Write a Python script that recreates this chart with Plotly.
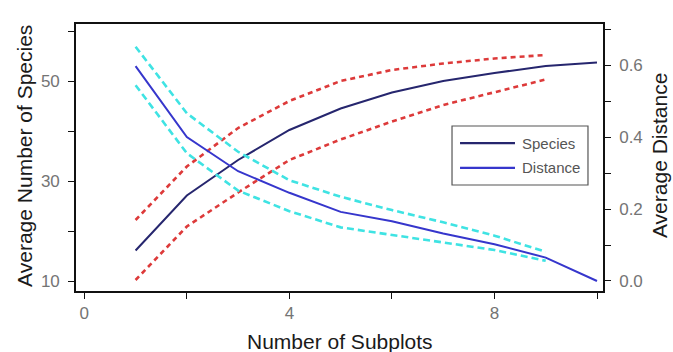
import plotly.graph_objects as go

# Number of subplots sampled
subplots = [1, 2, 3, 4, 5, 6, 7, 8, 9, 10]
ci_subplots = [1, 2, 3, 4, 5, 6, 7, 8, 9]

# Average number of species and its confidence band
species = [16.1, 27.1, 34.2, 40.2, 44.5, 47.7, 50.0, 51.6, 53.0, 53.7]
species_hi = [22.2, 32.9, 40.6, 46.0, 50.0, 52.2, 53.5, 54.5, 55.2]
species_lo = [10.2, 20.9, 27.7, 34.2, 38.3, 41.9, 45.2, 47.7, 50.3]

# Average distance and its confidence band
distance = [0.597, 0.400, 0.305, 0.245, 0.192, 0.166, 0.132, 0.102, 0.065, 0.0]
distance_hi = [0.651, 0.466, 0.359, 0.280, 0.234, 0.197, 0.163, 0.126, 0.081]
distance_lo = [0.544, 0.355, 0.251, 0.194, 0.149, 0.128, 0.106, 0.086, 0.056]

# Axis ticks
x_tickvals = [0, 2, 4, 6, 8, 10]
x_ticktext = ["0", "", "4", "", "8", ""]
y1_tickvals = [10, 20, 30, 40, 50, 60]
y1_ticktext = ["10", "", "30", "", "50", ""]
y2_tickvals = [0.0, 0.1, 0.2, 0.3, 0.4, 0.5, 0.6, 0.7]
y2_ticktext = ["0.0", "", "0.2", "", "0.4", "", "0.6", ""]

legend_names = ["Species", "Distance"]

C_SPECIES = "#26266e"
C_DIST = "#3636cc"
C_RED = "#dd3a3a"
C_CYAN = "#3fe3e3"
FONT = "Arial, Liberation Sans, sans-serif"

fig = go.Figure()

fig.add_trace(go.Scatter(x=ci_subplots, y=distance_hi, mode="lines", yaxis="y2",
                         line=dict(color=C_CYAN, width=2.6, dash="7px,4px"), showlegend=False))
fig.add_trace(go.Scatter(x=ci_subplots, y=distance_lo, mode="lines", yaxis="y2",
                         line=dict(color=C_CYAN, width=2.6, dash="7px,4px"), showlegend=False))
fig.add_trace(go.Scatter(x=ci_subplots, y=species_hi, mode="lines",
                         line=dict(color=C_RED, width=2.6, dash="5px,4px"), showlegend=False))
fig.add_trace(go.Scatter(x=ci_subplots, y=species_lo, mode="lines",
                         line=dict(color=C_RED, width=2.6, dash="5px,4px"), showlegend=False))
fig.add_trace(go.Scatter(x=subplots, y=species, mode="lines", name=legend_names[0],
                         line=dict(color=C_SPECIES, width=2), showlegend=False))
fig.add_trace(go.Scatter(x=subplots, y=distance, mode="lines", name=legend_names[1], yaxis="y2",
                         line=dict(color=C_DIST, width=2), showlegend=False))

axis_common = dict(
    showgrid=False, zeroline=False, showline=True, linecolor="#111", linewidth=1.6,
    ticks="outside", ticklen=6, tickwidth=1.4, tickcolor="#111",
    tickfont=dict(family=FONT, size=17, color="#747474"),
)

fig.update_layout(
    width=673, height=352,
    margin=dict(l=76, r=70, t=24, b=61),
    paper_bgcolor="white", plot_bgcolor="white",
    showlegend=False,
    xaxis=dict(range=[-0.162, 10.117], tickvals=x_tickvals, ticktext=x_ticktext,
               mirror=True, ticklabelstandoff=0, **axis_common),
    yaxis=dict(range=[8.0, 61.4], tickvals=y1_tickvals, ticktext=y1_ticktext,
               ticklabelstandoff=5, **axis_common),
    yaxis2=dict(range=[-0.0278, 0.714], tickvals=y2_tickvals, ticktext=y2_ticktext,
                overlaying="y", side="right", ticklabelstandoff=5, **axis_common),
)

# Axis titles
title_font = dict(family=FONT, size=21, color="#1a1a1a")
title_common = dict(xref="paper", yref="paper", showarrow=False, font=title_font,
                    xanchor="center", yanchor="middle")
fig.add_annotation(text="Number of Subplots", x=0.501, y=-0.1873, **title_common)
fig.add_annotation(text="Average Number of Species", x=-0.0968, y=0.506, textangle=-90,
                   **title_common)
fig.add_annotation(text="Average Distance", x=1.1063, y=0.5056, textangle=-90, **title_common)

# Boxed legend with long line samples
fig.add_shape(type="rect", xref="paper", yref="paper", x0=0.7135, x1=0.9715, y0=0.397, y1=0.618,
              line=dict(color="#555", width=1.2), fillcolor="white", layer="above")
for name, color, yp in [(legend_names[0], C_SPECIES, 0.554), (legend_names[1], C_DIST, 0.461)]:
    fig.add_shape(type="line", xref="paper", yref="paper", x0=0.7287, x1=0.833, y0=yp, y1=yp,
                  line=dict(color=color, width=2.2), layer="above")
    fig.add_annotation(text=name, xref="paper", yref="paper", x=0.8425, y=yp,
                       xanchor="left", yanchor="middle", showarrow=False,
                       font=dict(family=FONT, size=15, color="#555"))

fig.write_html("out.html")
